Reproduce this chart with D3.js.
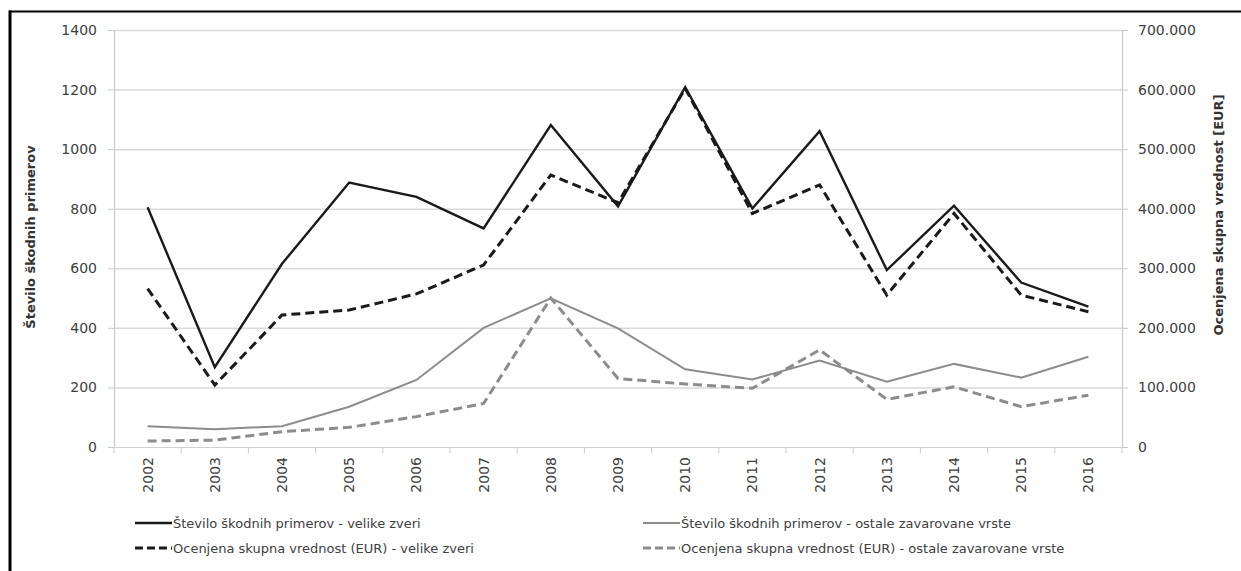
<!DOCTYPE html>
<html>
<head>
<meta charset="utf-8">
<script src="https://cdn.jsdelivr.net/npm/d3@7"></script>
<style>
  body { margin: 0; background: #fff; }
  svg { display: block; font-family: "DejaVu Sans", sans-serif; }
</style>
</head>
<body>
<div id="chart"></div>
<script>
const years = ["2002","2003","2004","2005","2006","2007","2008","2009","2010","2011","2012","2013","2014","2015","2016"];
const casesLarge = [805, 268, 615, 888, 840, 734, 1081, 808, 1208, 801, 1060, 594, 810, 552, 471];
const casesOther = [70, 60, 70, 135, 225, 400, 499, 398, 261, 227, 290, 219, 279, 233, 303];
const valueLarge = [266000, 104000, 221500, 230000, 257000, 305500, 456600, 410000, 602000, 392000, 440000, 255000, 392000, 255000, 227000];
const valueOther = [10000, 11500, 25700, 33000, 51000, 73000, 250000, 115000, 105700, 98500, 163000, 80000, 101000, 67700, 87000];
const leftTicks = [0, 200, 400, 600, 800, 1000, 1200, 1400];
const rightTicks = [0, 100000, 200000, 300000, 400000, 500000, 600000, 700000];

const W = 1241, H = 571;
const margin = { left: 114, right: 119, top: 30, bottom: 124 };
const width = W - margin.left - margin.right;
const height = H - margin.top - margin.bottom;

const svg = d3.select("#chart").append("svg").attr("width", W).attr("height", H);

// frame (only top and left edges visible)
svg.append("line").attr("x1", 9).attr("x2", W).attr("y1", 11.5).attr("y2", 11.5)
  .attr("stroke", "#000").attr("stroke-width", 2);
svg.append("line").attr("x1", 10).attr("x2", 10).attr("y1", 10.5).attr("y2", H)
  .attr("stroke", "#000").attr("stroke-width", 3);

const g = svg.append("g").attr("transform", `translate(${margin.left},${margin.top})`);

const x = d3.scaleBand().domain(years).range([0, width]);
const yL = d3.scaleLinear().domain([0, 1400]).range([height, 0]);
const yR = d3.scaleLinear().domain([0, 700000]).range([height, 0]);

// gridlines
g.append("g").selectAll("line").data(leftTicks.filter(d => d > 0)).join("line")
  .attr("x1", 0).attr("x2", width)
  .attr("y1", d => yL(d) + 0.5).attr("y2", d => yL(d) + 0.5)
  .attr("stroke", "#d9d9d9").attr("stroke-width", 1.5);

const fmtR = d => d === 0 ? "0" : d3.format(",")(d).replace(/,/g, ".");

const axL = g.append("g").call(d3.axisLeft(yL).tickValues(leftTicks).tickSize(6).tickPadding(11).tickFormat(d3.format("d")));
const axR = g.append("g").attr("transform", `translate(${width},0)`)
  .call(d3.axisRight(yR).tickValues(rightTicks).tickSize(6).tickPadding(10).tickFormat(fmtR));
const axX = g.append("g").attr("transform", `translate(0,${height})`)
  .call(d3.axisBottom(x).tickSize(0).tickPadding(10));

[axL, axR, axX].forEach(a => {
  a.select(".domain").attr("stroke", "#c8c8c8").attr("stroke-width", 1.2);
  a.selectAll(".tick line").attr("stroke", "#c8c8c8");
  a.selectAll("text").attr("fill", "#404040").style("font-size", "14px")
    .style("font-family", "DejaVu Sans, sans-serif");
});
axX.select(".domain").attr("stroke", "#d0d0d0");

// x ticks between categories
g.append("g").selectAll("line").data(d3.range(years.length + 1)).join("line")
  .attr("x1", i => i * x.step()).attr("x2", i => i * x.step())
  .attr("y1", height).attr("y2", height + 6)
  .attr("stroke", "#c8c8c8");

axX.selectAll(".tick text")
  .attr("transform", "rotate(-90)")
  .attr("text-anchor", "end")
  .attr("x", -10).attr("y", 0).attr("dy", "0.35em");

// axis titles
svg.append("text")
  .attr("transform", `translate(35,237) rotate(-90)`)
  .attr("text-anchor", "middle")
  .style("font-size", "13px").style("font-weight", "600").attr("fill", "#333")
  .text("Število škodnih primerov");
svg.append("text")
  .attr("transform", `translate(1223,215) rotate(-90)`)
  .attr("text-anchor", "middle")
  .style("font-size", "13px").style("font-weight", "600").attr("fill", "#333")
  .text("Ocenjena skupna vrednost [EUR]");

const cx = d => x(d) + x.bandwidth() / 2;
const series = [
  { name: "Število škodnih primerov - velike zveri", values: casesLarge, scale: yL, color: "#1a1a1a", w: 2.4, dash: null },
  { name: "Število škodnih primerov - ostale zavarovane vrste", values: casesOther, scale: yL, color: "#8c8c8c", w: 2, dash: null },
  { name: "Ocenjena skupna vrednost (EUR) - velike zveri", values: valueLarge, scale: yR, color: "#1a1a1a", w: 3, dash: "9,5" },
  { name: "Ocenjena skupna vrednost (EUR) - ostale zavarovane vrste", values: valueOther, scale: yR, color: "#8c8c8c", w: 3, dash: "9,5" }
];

// draw lower layers first
[series[3], series[1], series[2], series[0]].forEach(s => {
  const line = d3.line().x((d, i) => cx(years[i])).y(d => s.scale(d));
  g.append("path").datum(s.values)
    .attr("d", line)
    .attr("fill", "none")
    .attr("stroke", s.color)
    .attr("stroke-width", s.w)
    .attr("stroke-linejoin", "miter")
    .attr("stroke-dasharray", s.dash);
});

// legend
const legendPos = [
  { x: 135, y: 523 }, { x: 643, y: 523 },
  { x: 135, y: 548 }, { x: 643, y: 548 }
];
series.forEach((s, i) => {
  const p = legendPos[i];
  const lg = svg.append("g").attr("transform", `translate(${p.x},${p.y})`);
  lg.append("line").attr("x1", 0).attr("x2", 37).attr("y1", 0).attr("y2", 0)
    .attr("stroke", s.color).attr("stroke-width", s.w)
    .attr("stroke-dasharray", s.dash ? "8,4" : null);
  lg.append("text").attr("x", 38).attr("y", 0).attr("dy", "0.35em")
    .style("font-size", "13px").attr("fill", "#404040")
    .text(s.name);
});
</script>
</body>
</html>
